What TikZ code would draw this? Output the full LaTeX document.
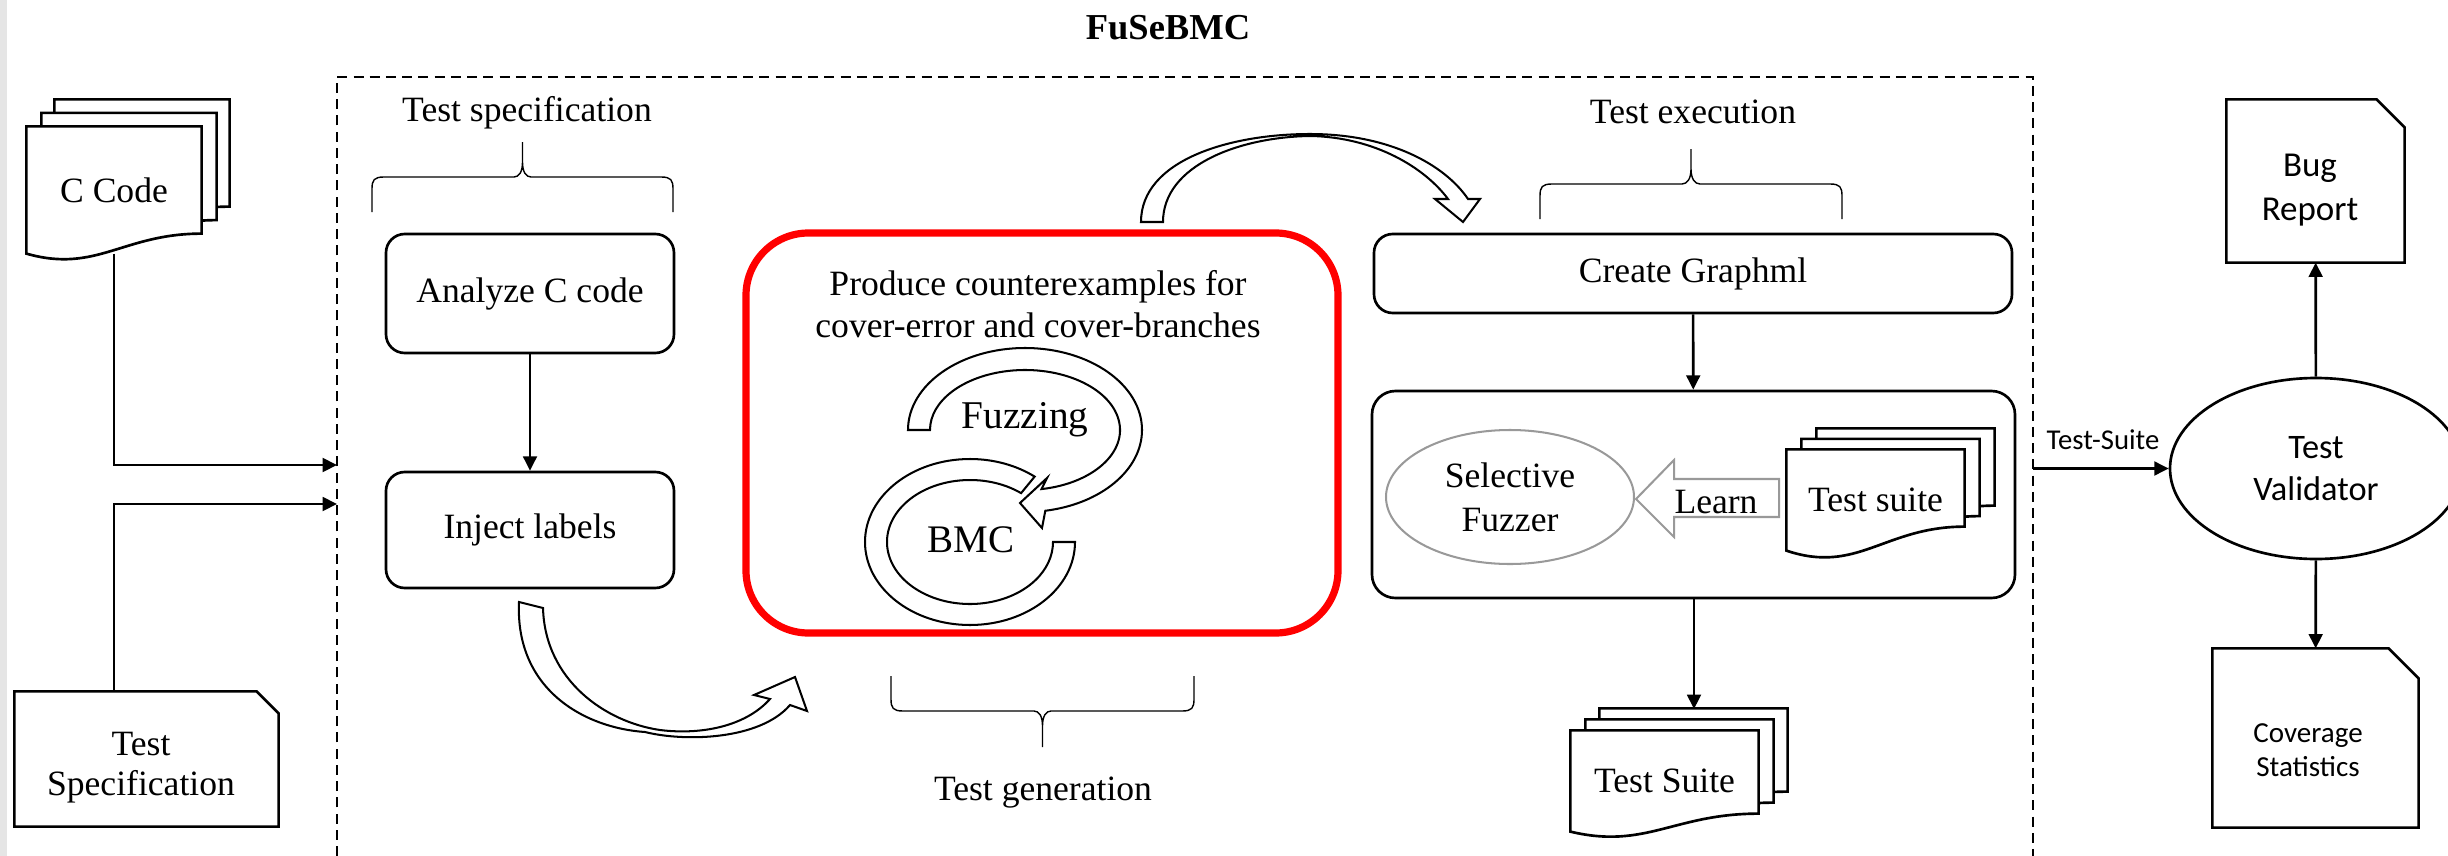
\documentclass[tikz,border=0pt]{standalone}
\usepackage{fontspec}
\setmainfont{Liberation Serif}
\newfontfamily\calfont{Carlito}
\usetikzlibrary{calc,shapes.geometric,arrows.meta}
\pgfdeclarelayer{background}
\pgfsetlayers{background,main}
\newdimen\upx
\upx=0.3203pt
\newcommand\fsz[2]{\fontsize{#1}{#2}\selectfont}
% wavy document page: node, wave depth, dx, dy
\newcommand\wavedoc[4]{%
  \draw[docline] ($(#1.south west)+(#3,#4)$) -- ($(#1.north west)+(#3,#4)$) -- ($(#1.north east)+(#3,#4)$) -- ($(#1.south east)+(#3,#4+#2)$)
    .. controls ($(#1.south west)!0.55!(#1.south east)+(#3,#4+#2)$) and ($(#1.south west)!0.4!(#1.south east)+(#3,#4-#2)$) .. ($(#1.south west)+(#3,#4)$) -- cycle;}
% document with cut corner: node, cut size
\newcommand\cutdoc[2]{%
  \draw[docline] (#1.south west) -- (#1.north west) -- ($(#1.north east)+(-#2,0)$) -- ($(#1.north east)+(0,-#2)$) -- (#1.south east) -- cycle;}
\tikzset{
  lbl/.style={inner sep=0pt, align=center, font=\fsz{11.4}{13}},
  sans/.style={inner sep=0pt, align=center},
  rbox/.style={draw, line width=0.85pt, rounded corners=6pt, inner sep=0pt, align=center, font=\fsz{11.4}{13}},
  docbox/.style={inner sep=0pt, draw=none, align=center, font=\fsz{11.4}{13}},
  arr/.style={line width=0.85pt, -{Triangle[length=4.6pt,width=4.4pt]}},
  docline/.style={line width=0.85pt, fill=white, line join=miter},
  blockarr/.style={line width=0.65pt, fill=white, line join=miter},
  bracestyle/.style={line width=0.45pt},
}
\begin{document}
\begin{tikzpicture}[x=\upx, y=\upx]
\useasboundingbox (0,0) rectangle (2448,-856);

% ---------- nodes ----------
\node[font=\bfseries\fsz{11.7}{14}, inner sep=0pt] (title) at (1168,-28) {FuSeBMC};
\node[lbl] (speclbl) at (527,-113) {Test specification};
\node[rbox, minimum width=288*\upx, minimum height=119*\upx] (analyze) at (530,-293.5) {Analyze C code};
\node[rbox, minimum width=288*\upx, minimum height=116*\upx] (inject) at (530,-530) {Inject labels};
\node[draw=red, line width=2.3pt, rounded corners=20pt, minimum width=592*\upx, minimum height=400*\upx, inner sep=0pt] (gen) at (1042,-433) {};
\node[lbl, font=\fsz{11.4}{13.45}] (gentext) at (1038,-304) {Produce counterexamples for\\cover-error and cover-branches};
\node[lbl, font=\fsz{12.6}{14}] (fuzz) at (1025,-420) {Fuzzing};
\node[lbl, font=\fsz{12.5}{14}] (bmc) at (971,-540) {BMC};
\node[lbl] (genlbl) at (1043,-793) {Test generation};
\node[lbl] (execlbl) at (1693,-112) {Test execution};
\node[rbox, minimum width=638*\upx, minimum height=79*\upx] (graphml) at (1693,-273.5) {Create Graphml};
\node[rbox, rounded corners=7.5pt, minimum width=643*\upx, minimum height=207*\upx] (exec) at (1693.5,-494.5) {};
\node[ellipse, draw=black!40, line width=0.65pt, minimum width=248*\upx, minimum height=134*\upx, inner sep=0pt, align=center, font=\fsz{11.4}{14}] (selfuzz) at (1510,-497) {Selective\\Fuzzer};
\node[lbl] (learn) at (1716,-502) {Learn};
\node[docbox, minimum width=177*\upx, minimum height=100*\upx] (tsin) at (1875.5,-500) {Test suite};
\node[docbox, minimum width=187*\upx, minimum height=100*\upx] (tsout) at (1664.5,-781) {Test Suite};
\node[docbox, minimum width=174*\upx, minimum height=126*\upx] (ccode) at (114,-190) {C Code};
\node[docbox, minimum width=263*\upx, minimum height=134*\upx] (tspec) at (146.5,-759) {};
\node[lbl, font=\fsz{11.4}{12.8}] (tspectext) at (141,-768) {Test\\Specification};
\node[docbox, minimum width=177*\upx, minimum height=162*\upx] (bug) at (2315.5,-181) {};
\node[sans, font=\calfont\fsz{11.2}{14}] (bugtext) at (2310,-190) {Bug\\Report};
\node[ellipse, draw, line width=0.85pt, minimum width=292*\upx, minimum height=181*\upx, inner sep=0pt, align=center, font=\calfont\fsz{11}{13.5}] (validator) at (2316,-468.5) {Test\\Validator};
\node[docbox, minimum width=205*\upx, minimum height=178*\upx] (coverage) at (2315.5,-738) {};
\node[sans, font=\calfont\fsz{9.3}{10.9}] (covtext) at (2308,-750) {Coverage\\Statistics};
\node[sans, font=\calfont\fsz{9.2}{11}] (tslbl) at (2103,-440) {Test-Suite};

\coordinate (in1) at (337,-465);
\coordinate (in2) at (337,-504);
\coordinate (out1) at (2033,-468.5);
\coordinate (tstop) at (1694,-709);

% ---------- shapes behind ----------
\begin{pgfonlayer}{background}
\fill[black!10] (0,0) rectangle (7,-856);
\draw[line width=0.8pt, dash pattern=on 3.2pt off 2pt] (337,-856) -- (337,-77) -- (2033,-77) -- (2033,-856);
% documents
\wavedoc{ccode}{20}{28}{27}
\wavedoc{ccode}{20}{15}{13.5}
\wavedoc{ccode}{20}{0}{0}
\wavedoc{tsin}{24}{30}{21}
\wavedoc{tsin}{24}{15}{10.5}
\wavedoc{tsin}{24}{0}{0}
\wavedoc{tsout}{18}{29}{22}
\wavedoc{tsout}{18}{15}{11}
\wavedoc{tsout}{18}{0}{0}
\cutdoc{tspec}{22}
\cutdoc{bug}{28}
\cutdoc{coverage}{30}
% braces
\draw[bracestyle] (372,-212) -- (372,-189) .. controls (372,-180) and (374,-177) .. (384,-177) -- (514,-177)
  .. controls (519,-177) and (522.5,-172) .. (522.5,-162) -- (522.5,-142) -- (522.5,-162)
  .. controls (522.5,-172) and (526,-177) .. (531,-177) -- (661,-177) .. controls (671,-177) and (673,-180) .. (673,-189) -- (673,-212);
\draw[bracestyle] (1540,-219) -- (1540,-196) .. controls (1540,-187) and (1542,-184) .. (1552,-184) -- (1682,-184)
  .. controls (1687,-184) and (1691,-179) .. (1691,-169) -- (1691,-149) -- (1691,-169)
  .. controls (1691,-179) and (1695,-184) .. (1700,-184) -- (1830,-184) .. controls (1840,-184) and (1842,-187) .. (1842,-196) -- (1842,-219);
\draw[bracestyle] (891,-676) -- (891,-699) .. controls (891,-708) and (893,-711) .. (903,-711) -- (1034,-711)
  .. controls (1039,-711) and (1042.5,-716) .. (1042.5,-726) -- (1042.5,-747) -- (1042.5,-726)
  .. controls (1042.5,-716) and (1046,-711) .. (1051,-711) -- (1182,-711) .. controls (1192,-711) and (1194,-708) .. (1194,-699) -- (1194,-676);
% curved block arrow: inject labels -> generation
\draw[blockarr] (519,-602) .. controls (515,-690) and (585,-728) .. (645,-732)
  .. controls (685,-742) and (760,-740) .. (790,-705) -- (807,-711) -- (795,-677) -- (754,-695) -- (770,-699)
  .. controls (745,-727) and (700,-735) .. (660,-730) .. controls (605,-722) and (545,-680) .. (543,-608) -- cycle;
% curved block arrow: generation -> execution
\draw[blockarr] (1141,-222) .. controls (1141,-160) and (1230,-134) .. (1310,-134)
  .. controls (1390,-134) and (1445,-165) .. (1468,-199) -- (1480,-199) -- (1463,-222) -- (1435,-199) -- (1448,-199)
  .. controls (1425,-168) and (1375,-137) .. (1310,-136) .. controls (1240,-137) and (1163,-165) .. (1163,-222) -- cycle;
% BMC loop
\draw[blockarr] (1075,-542) arc[start angle=0, end angle=-308, x radius=105, y radius=83]
  -- ($(970,-542)+(52:83 and 62)$) arc[start angle=52, end angle=360, x radius=83, y radius=62] -- cycle;
% Fuzzing loop
\draw[blockarr] (908,-430) arc[start angle=180, end angle=-80, x radius=117, y radius=82]
  -- (1042,-528) -- (1020,-503) -- (1047,-478)
  -- ($(1025,-430)+(-80:95 and 60)$) arc[start angle=-80, end angle=180, x radius=95, y radius=60] -- cycle;
% Learn arrow
\draw[black!40, line width=0.65pt, fill=white, line join=miter] (1636,-499) -- (1674,-460) -- (1674,-479) -- (1779,-479) -- (1779,-517) -- (1674,-517) -- (1674,-537) -- cycle;
\end{pgfonlayer}

% ---------- connectors ----------
\draw[arr] (ccode.south) |- (in1);
\draw[arr] (tspec.north -| ccode.south) |- (in2);
\draw[arr] (analyze) -- (inject);
\draw[arr] (graphml) -- (exec);
\draw[arr] (exec.south -| tstop) -- (tstop);
\draw[arr] (out1) -- (validator);
\draw[arr] (validator) -- (bug);
\draw[arr] (validator) -- (coverage);
\end{tikzpicture}
\end{document}
